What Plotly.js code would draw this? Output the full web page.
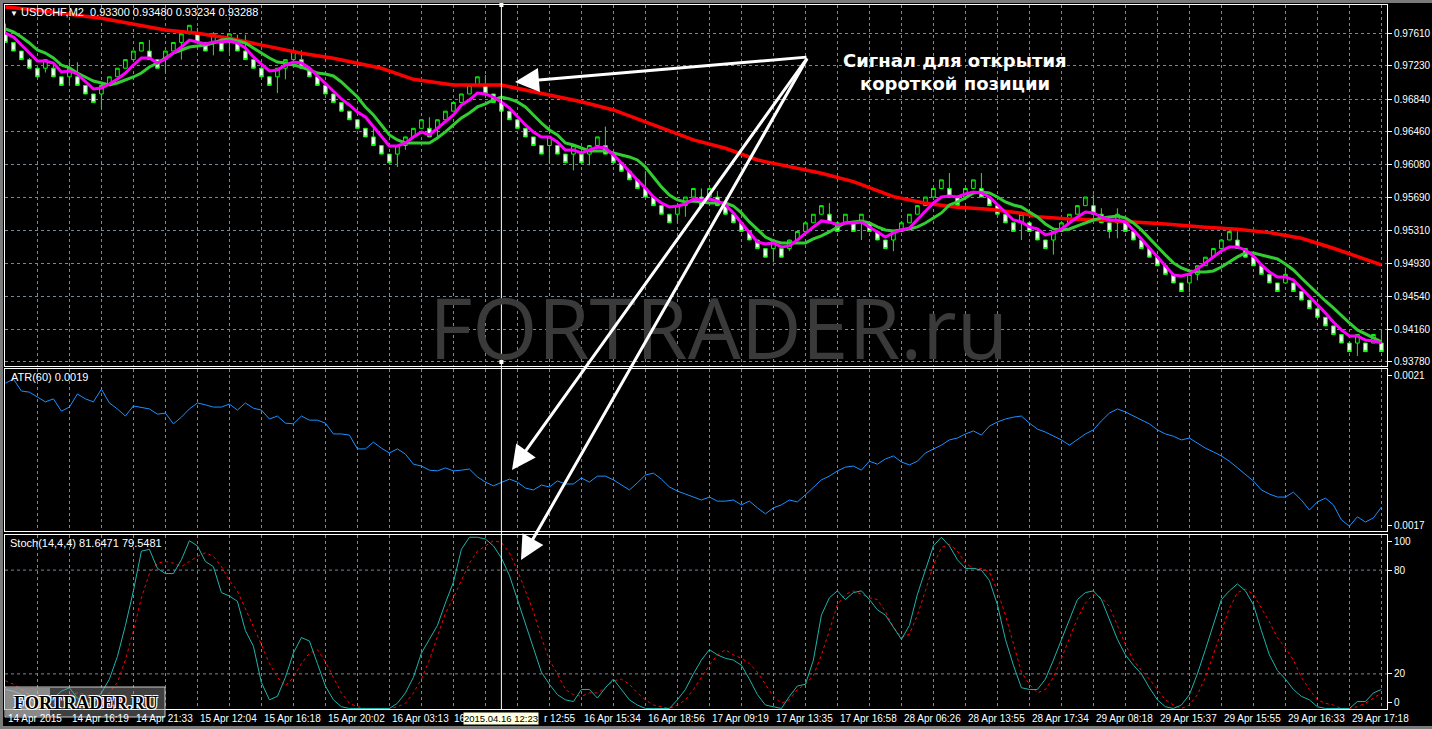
<!DOCTYPE html>
<html><head><meta charset="utf-8">
<script src="https://cdn.plot.ly/plotly-3.0.1.min.js"></script>
<style>html,body{margin:0;padding:0;background:#000;overflow:hidden}#chart{width:1432px;height:729px}</style>
</head><body><div id="chart"></div>
<script>
// ---- price candles (pips, 4 digits) ----
const openP = [9760,9750,9740,9730,9720,9720,9720,9710,9710,9710,
9700,9690,9690,9700,9710,9720,9730,9740,9740,9730,
9730,9740,9750,9760,9760,9750,9750,9750,9750,9750,
9740,9730,9720,9710,9710,9720,9730,9730,9720,9710,
9700,9690,9680,9670,9660,9650,9640,9630,9620,9620,
9630,9640,9650,9650,9650,9660,9670,9680,9690,9700,
9700,9690,9680,9670,9660,9650,9640,9630,9630,9630,
9620,9620,9620,9620,9630,9630,9620,9610,9600,9590,
9580,9570,9560,9550,9550,9560,9570,9570,9570,9570,
9560,9550,9540,9530,9520,9510,9510,9510,9510,9520,
9530,9540,9550,9550,9540,9540,9540,9540,9540,9530,
9520,9520,9530,9540,9550,9560,9570,9580,9580,9570,
9570,9580,9580,9570,9560,9550,9540,9540,9540,9530,
9520,9520,9530,9540,9550,9560,9560,9550,9540,9540,
9540,9530,9520,9510,9500,9490,9480,9470,9470,9480,
9490,9500,9510,9520,9520,9510,9500,9490,9480,9470,
9470,9470,9460,9450,9440,9430,9420,9410,9400,9400,
9400,9400,9400];
const closeP = [9750,9740,9730,9720,9710,9730,9710,9700,9720,9700,
9690,9680,9700,9710,9720,9730,9740,9750,9730,9720,
9740,9750,9760,9770,9750,9740,9760,9740,9760,9740,
9730,9720,9710,9700,9720,9730,9740,9720,9710,9700,
9690,9680,9670,9660,9650,9640,9630,9620,9610,9630,
9640,9650,9660,9640,9660,9670,9680,9690,9700,9710,
9690,9680,9670,9660,9650,9640,9630,9620,9640,9620,
9610,9630,9610,9630,9640,9620,9610,9600,9590,9580,
9570,9560,9550,9540,9560,9570,9580,9560,9580,9560,
9550,9540,9530,9520,9510,9500,9520,9500,9520,9530,
9540,9550,9560,9540,9530,9550,9530,9550,9530,9520,
9510,9530,9540,9550,9560,9570,9580,9590,9570,9560,
9580,9590,9570,9560,9550,9540,9530,9550,9530,9520,
9510,9530,9540,9550,9560,9570,9550,9540,9530,9550,
9530,9520,9510,9500,9490,9480,9470,9460,9480,9490,
9500,9510,9520,9530,9510,9500,9490,9480,9470,9460,
9480,9460,9450,9440,9430,9420,9410,9400,9390,9410,
9390,9410,9390];
const highP = [9772,9750,9740,9732,9720,9730,9727,9710,9727,9727,
9700,9690,9700,9710,9720,9730,9740,9750,9753,9730,
9740,9750,9760,9770,9767,9750,9762,9750,9760,9759,
9759,9730,9720,9710,9720,9730,9740,9741,9720,9710,
9700,9690,9680,9670,9660,9650,9650,9630,9620,9630,
9640,9650,9660,9663,9660,9670,9680,9690,9700,9710,
9712,9690,9680,9670,9660,9650,9640,9630,9640,9630,
9620,9630,9620,9630,9640,9652,9620,9610,9600,9590,
9600,9570,9560,9550,9560,9570,9580,9580,9580,9577,
9560,9550,9540,9530,9520,9510,9520,9510,9520,9530,
9540,9550,9560,9563,9540,9550,9540,9550,9540,9530,
9520,9530,9540,9550,9560,9570,9580,9590,9598,9570,
9580,9590,9598,9570,9560,9550,9540,9550,9540,9530,
9520,9530,9540,9550,9560,9570,9573,9557,9540,9557,
9540,9530,9520,9510,9500,9490,9480,9470,9480,9490,
9500,9510,9520,9530,9530,9510,9500,9490,9480,9470,
9488,9470,9460,9450,9440,9430,9420,9410,9400,9410,
9400,9410,9416];
const lowP = [9750,9740,9730,9720,9710,9715,9710,9700,9700,9700,
9690,9680,9673,9700,9710,9720,9730,9740,9730,9720,
9716,9740,9730,9760,9750,9740,9735,9740,9738,9740,
9730,9720,9710,9700,9691,9707,9730,9720,9710,9700,
9690,9680,9670,9660,9650,9640,9630,9620,9610,9605,
9625,9640,9650,9640,9640,9660,9670,9680,9690,9700,
9690,9680,9670,9660,9650,9640,9630,9620,9610,9620,
9610,9601,9610,9607,9630,9620,9610,9600,9590,9580,
9570,9560,9550,9540,9540,9547,9570,9560,9570,9560,
9550,9540,9530,9520,9510,9500,9494,9500,9507,9520,
9530,9540,9550,9540,9530,9540,9530,9520,9530,9520,
9510,9507,9530,9540,9550,9560,9570,9580,9570,9560,
9570,9580,9570,9560,9550,9540,9530,9520,9530,9520,
9510,9503,9530,9540,9550,9560,9550,9540,9522,9522,
9530,9520,9510,9500,9490,9480,9470,9460,9459,9473,
9490,9500,9510,9520,9510,9500,9490,9480,9470,9460,
9470,9460,9450,9440,9430,9420,9410,9400,9390,9385,
9390,9400,9390];

// ---- moving averages (5 digits) ----
const fastMA = [97610,97563,97470,97377,97284,97284,97261,97156,97168,97133,
97040,96958,96970,97016,97075,97144,97237,97319,97319,97261,
97307,97377,97447,97528,97505,97482,97505,97505,97517,97494,
97435,97331,97249,97168,97179,97237,97272,97261,97203,97110,
97016,96923,96842,96772,96690,96632,96516,96411,96295,96295,
96330,96399,96458,96423,96504,96574,96656,96772,96830,96912,
96900,96865,96807,96737,96632,96539,96458,96399,96399,96341,
96248,96248,96213,96248,96283,96271,96190,96097,95992,95899,
95806,95701,95631,95585,95596,95619,95678,95666,95678,95654,
95608,95515,95398,95282,95177,95154,95166,95119,95131,95201,
95282,95352,95422,95410,95375,95398,95398,95410,95352,95294,
95235,95282,95317,95340,95433,95526,95631,95701,95713,95701,
95736,95760,95748,95701,95608,95515,95433,95410,95352,95329,
95259,95282,95329,95398,95468,95526,95515,95468,95433,95433,
95410,95317,95212,95107,95003,94886,94793,94781,94805,94863,
94933,95003,95073,95119,95119,95084,95014,94909,94828,94770,
94770,94735,94642,94537,94444,94351,94246,94153,94083,94083,
94036,94025,94002];
const slowMA = [97657,97622,97563,97494,97412,97377,97319,97237,97203,97144,
97098,97051,97028,97005,97028,97063,97098,97144,97214,97261,
97319,97377,97412,97447,97459,97470,97494,97528,97540,97517,
97494,97435,97377,97319,97272,97261,97237,97214,97179,97144,
97133,97110,97040,96947,96865,96749,96656,96539,96423,96365,
96330,96330,96330,96330,96388,96458,96539,96621,96679,96749,
96784,96830,96865,96842,96807,96749,96656,96562,96481,96423,
96330,96306,96271,96236,96236,96236,96213,96190,96167,96132,
96050,95934,95818,95724,95666,95643,95654,95643,95631,95631,
95631,95596,95515,95410,95317,95235,95189,95166,95166,95166,
95166,95212,95247,95294,95352,95398,95410,95422,95398,95352,
95317,95305,95317,95329,95352,95398,95457,95515,95608,95643,
95689,95748,95760,95748,95701,95643,95608,95585,95526,95468,
95387,95329,95317,95329,95364,95398,95433,95457,95468,95480,
95457,95398,95317,95224,95119,95026,94933,94875,94840,94828,
94828,94840,94886,94944,95003,95049,95049,95026,95003,94979,
94921,94851,94758,94665,94584,94490,94409,94316,94234,94153,
94106,94060,94013];
const longMABar = [0,3,12,20,24,28,33,37,41,43,47,51,56,62,66,72,76,80,84,86,90,94,98,102,106,111,115,119,123,127,129,133,137,141,145,150,154,158,162,166,170,172];
const longMA = [97913,97886,97781,97645,97606,97548,97451,97374,97316,97276,97199,97071,97005,97005,96927,96810,96714,96578,96442,96365,96268,96132,96054,95977,95879,95705,95628,95581,95558,95511,95472,95445,95433,95414,95387,95348,95325,95286,95220,95104,94968,94910];

// ---- ATR(60) ----
const atr = [0.002080,0.002091,0.002059,0.002056,0.002043,0.002030,0.002038,0.002005,0.002016,0.002051,
0.002038,0.002030,0.002064,0.002027,0.002011,0.001992,0.002019,0.002016,0.002011,0.001997,
0.002000,0.001971,0.001989,0.002011,0.002027,0.002022,0.002016,0.002016,0.002024,0.002008,
0.002027,0.002013,0.002008,0.001984,0.001992,0.001973,0.001971,0.001992,0.001981,0.001981,
0.001973,0.001944,0.001944,0.001941,0.001904,0.001904,0.001922,0.001906,0.001893,0.001904,
0.001890,0.001863,0.001858,0.001847,0.001845,0.001853,0.001845,0.001847,0.001850,0.001829,
0.001815,0.001805,0.001813,0.001823,0.001815,0.001799,0.001794,0.001807,0.001802,0.001818,
0.001810,0.001810,0.001826,0.001815,0.001831,0.001831,0.001821,0.001807,0.001794,0.001813,
0.001834,0.001839,0.001823,0.001802,0.001791,0.001783,0.001775,0.001767,0.001775,0.001764,
0.001764,0.001767,0.001754,0.001764,0.001746,0.001730,0.001746,0.001754,0.001767,0.001762,
0.001781,0.001802,0.001821,0.001831,0.001845,0.001855,0.001858,0.001847,0.001871,0.001863,
0.001877,0.001885,0.001869,0.001861,0.001871,0.001893,0.001904,0.001914,0.001928,0.001933,
0.001944,0.001952,0.001941,0.001965,0.001976,0.001984,0.001989,0.001992,0.001973,0.001957,
0.001949,0.001938,0.001928,0.001914,0.001928,0.001944,0.001955,0.001979,0.002000,0.002011,
0.002003,0.001992,0.001981,0.001971,0.001955,0.001944,0.001938,0.001928,0.001933,0.001920,
0.001906,0.001896,0.001885,0.001871,0.001853,0.001837,0.001818,0.001794,0.001783,0.001775,
0.001775,0.001788,0.001767,0.001740,0.001762,0.001772,0.001754,0.001714,0.001697,0.001722,
0.001708,0.001719,0.001748];

// ---- Stochastic(14,4,4) ----
const stochMain = [11,10,8,5,2,3,6,10,12,6,3,3,9,17,30,48,68,91,92,81,
78,78,86,97,94,85,82,67,65,62,45,36,15,5,7,18,32,41,39,26,
13,5,1,0,0,0,0,0,0,3,9,18,32,40,48,61,73,92,99,99,
98,94,87,77,63,48,34,21,14,8,5,4,11,11,6,12,17,11,5,2,
0,0,0,0,5,11,20,28,34,31,29,28,25,17,8,2,1,0,7,13,
14,28,54,64,68,63,67,68,63,57,54,47,40,48,66,80,94,99,94,86,
81,81,80,74,60,40,25,12,11,11,17,28,40,52,63,67,68,63,52,40,
31,25,20,12,5,1,0,2,8,20,34,48,63,68,72,68,60,45,31,22,
17,11,7,5,1,0,0,0,0,4,4,9,11];
const stochSignal = [16,14,11,8,5,3,3,5,8,9,8,6,5,9,15,28,45,64,78,84,
85,84,82,85,88,90,88,82,74,68,58,47,37,26,18,13,18,26,32,34,
27,18,9,3,1,0,0,0,0,1,3,9,17,28,41,55,64,74,84,91,
94,97,96,90,80,68,56,41,28,20,11,8,7,9,9,12,16,17,14,9,
5,2,1,0,2,5,11,18,25,31,34,31,29,26,21,14,7,3,5,11,
14,19,31,45,60,66,68,66,64,63,56,47,41,43,54,68,83,93,95,91,
84,81,81,79,68,54,37,21,14,9,11,18,29,40,52,61,66,64,59,48,
37,28,22,17,11,5,2,0,2,8,18,31,45,58,67,69,66,58,50,41,
35,28,18,11,5,3,2,0,0,1,3,6,9];

// ---- axis labels ----
const priceTicks = [0.97610,0.97230,0.96840,0.96460,0.96080,0.95690,0.95310,0.94930,0.94540,0.94160,0.93780];
const priceTickText = ['0.97610','0.97230','0.96840','0.96460','0.96080','0.95690','0.95310','0.94930','0.94540','0.94160','0.93780'];
const atrTicks = [0.0021,0.0017];
const atrTickText = ['0.0021','0.0017'];
const stochTicks = [3.5,20,80,96.5];
const stochTickText = ['0','20','80','100'];
const stochLevels = [20,80];
const timeBars = [0,8,16,24,32,40,48,56,64,72,80,88,96,104,112,120,128,136,144,152,160,168];
const timeLabels = ['14 Apr 2015','14 Apr 16:19','14 Apr 21:33','15 Apr 12:04','15 Apr 16:18','15 Apr 20:02','16 Apr 03:13','16','r 12:55','16 Apr 15:34','16 Apr 18:56','17 Apr 09:19','17 Apr 13:35','17 Apr 16:58','28 Apr 06:26','28 Apr 13:55','28 Apr 17:34','29 Apr 08:18','29 Apr 15:37','29 Apr 15:55','29 Apr 16:33','29 Apr 17:18'];
const crossBar = 62;
const crossLabel = '2015.04.16 12:23';

const barIndex = openP.map((_, i) => i);
const FN = 'Liberation Sans, Arial, sans-serif';
const GRID = '#778899';
const xr = [-0.05, 172.7];

const traces = [
  {type:'candlestick', x:barIndex, open:openP.map(v=>v/10000), high:highP.map(v=>v/10000),
   low:lowP.map(v=>v/10000), close:closeP.map(v=>v/10000), xaxis:'x', yaxis:'y',
   increasing:{line:{color:'#00ff00',width:1}, fillcolor:'#000000'},
   decreasing:{line:{color:'#00ff00',width:1}, fillcolor:'#ffffff'},
   whiskerwidth:0, hoverinfo:'skip'},
  {type:'scatter', mode:'lines', x:longMABar, y:longMA.map(v=>v/100000), xaxis:'x', yaxis:'y',
   line:{color:'#ff0000', width:3.5}, hoverinfo:'skip'},
  {type:'scatter', mode:'lines', x:barIndex, y:slowMA.map(v=>v/100000), xaxis:'x', yaxis:'y',
   line:{color:'#32cd32', width:3}, hoverinfo:'skip'},
  {type:'scatter', mode:'lines', x:barIndex, y:fastMA.map(v=>v/100000), xaxis:'x', yaxis:'y',
   line:{color:'#ff00ff', width:3}, hoverinfo:'skip'},
  {type:'scatter', mode:'lines', x:barIndex, y:atr, xaxis:'x2', yaxis:'y2',
   line:{color:'#1e90ff', width:1}, hoverinfo:'skip'},
  {type:'scatter', mode:'lines', x:barIndex, y:stochSignal, xaxis:'x3', yaxis:'y3',
   line:{color:'#ff0000', width:1, dash:'dot'}, hoverinfo:'skip'},
  {type:'scatter', mode:'lines', x:barIndex, y:stochMain, xaxis:'x3', yaxis:'y3',
   line:{color:'#20b2aa', width:1}, hoverinfo:'skip'}
];

function xAxis(anchor, extra){
  return Object.assign({domain:[0,1], anchor:anchor, range:xr, showticklabels:false,
    tick0:0, dtick:4, ticks:'', showgrid:true, gridcolor:GRID, griddash:'3px,3px', gridwidth:1,
    zeroline:false, showline:true, mirror:true, linecolor:'#ffffff', linewidth:1,
    rangeslider:{visible:false}, fixedrange:true}, extra||{});
}
function yAxis(anchor, dom, extra){
  return Object.assign({domain:dom, anchor:anchor, side:'right', zeroline:false,
    showline:true, mirror:true, linecolor:'#ffffff', linewidth:1,
    ticks:'outside', ticklen:4, tickcolor:'#ffffff', tickwidth:1,
    tickfont:{family:FN, size:10, color:'#ffffff'}, fixedrange:true}, extra||{});
}

const ann = [];
const W = 1382, H = 704;
function px(x){ return (x-5)/W; }
function py(y){ return 1-(y-5)/H; }

ann.push({xref:'paper', yref:'paper', x:px(8), y:py(12), xanchor:'left', yanchor:'middle', showarrow:false,
  text:'<span style="font-size:8px">▼</span> USDCHF,M2  0.93300 0.93480 0.93234 0.93288',
  font:{family:FN, size:11, color:'#ffffff'}});
ann.push({xref:'paper', yref:'paper', x:px(9), y:py(377), xanchor:'left', yanchor:'middle', showarrow:false,
  text:'ATR(60) 0.0019', font:{family:FN, size:11, color:'#ffffff'}});
ann.push({xref:'paper', yref:'paper', x:px(8), y:py(543), xanchor:'left', yanchor:'middle', showarrow:false,
  text:'Stoch(14,4,4) 81.6471 79.5481', font:{family:FN, size:11, color:'#ffffff'}});

// watermark
ann.push({xref:'paper', yref:'paper', x:px(718), y:py(326), xanchor:'center', yanchor:'middle', showarrow:false,
  text:'FORTRADER.ru', font:{family:'Open Sans, Lato, sans-serif', size:84, color:'#3a3a3a'}});

// arrows
const tail = [808, 57];
[[515,82],[512,470],[521,560]].forEach(h => {
  ann.push({xref:'paper', yref:'paper', x:px(h[0]), y:py(h[1]), ax:tail[0]-h[0], ay:tail[1]-h[1],
    text:'', showarrow:true, arrowhead:2, arrowsize:1.6, arrowwidth:3, arrowcolor:'#ffffff', standoff:0, startstandoff:0});
});
ann.push({xref:'paper', yref:'paper', x:px(955), y:py(60), xanchor:'center', yanchor:'middle', showarrow:false,
  text:'<b>Сигнал для открытия</b>', font:{family:'DejaVu Sans, sans-serif', size:18, color:'#ffffff'}});
ann.push({xref:'paper', yref:'paper', x:px(955), y:py(83), xanchor:'center', yanchor:'middle', showarrow:false,
  text:'<b>короткой позиции</b>', font:{family:'DejaVu Sans, sans-serif', size:18, color:'#ffffff'}});

// time labels (the two around the crosshair are partly covered by its date box in the source)
timeBars.forEach((b, i) => {
  const shift = (i === 8) ? 25 : (i === 7 ? -1 : 1);
  ann.push({xref:'x3', yref:'paper', x:b, y:py(718), xanchor:'left', yanchor:'middle', xshift:shift, showarrow:false,
    text:timeLabels[i], font:{family:FN, size:10, color:'#ffffff'}});
});
// logo text
ann.push({xref:'paper', yref:'paper', x:px(86), y:py(703), xanchor:'center', yanchor:'middle', showarrow:false,
  text:'<b>FORTRADER.RU</b>', font:{family:'Liberation Serif, DejaVu Serif, serif', size:18, color:'#000000',
  shadow:'1px 1px 0 #fff, -1px -1px 0 #fff, 1px -1px 0 #fff, -1px 1px 0 #fff'}});
// crosshair date label
ann.push({xref:'x3', yref:'paper', x:crossBar, y:py(718), xanchor:'center', yanchor:'middle', showarrow:false,
  text:crossLabel, bgcolor:'#ffffe1', borderpad:0, font:{family:FN, size:9.5, color:'#000000'}});

const shapes = [];
stochLevels.forEach(v => shapes.push({type:'line', xref:'paper', yref:'y3', x0:0, x1:1, y0:v, y1:v,
  line:{color:GRID, width:1, dash:'3px,3px'}, layer:'below'}));
shapes.push({type:'line', xref:'x', yref:'paper', x0:crossBar, x1:crossBar, y0:0, y1:1,
  line:{color:'#fffff0', width:1}, layer:'above'});
[py(5), py(362)].forEach(yy => shapes.push({type:'rect', xref:'x', yref:'paper', xsizemode:'pixel', ysizemode:'pixel',
  xanchor:crossBar, yanchor:yy, x0:-2, x1:2, y0:-2, y1:2, fillcolor:'#fffff0', line:{width:0}}));
// logo box
shapes.push({type:'rect', xref:'paper', yref:'paper', x0:px(5), x1:px(165), y0:py(717), y1:py(687),
  fillcolor:'rgba(140,140,140,0.45)', line:{color:'#c8c8c8', width:1}, layer:'above'});
shapes.push({type:'rect', xref:'paper', yref:'paper', x0:px(6), x1:px(50), y0:py(716), y1:py(688),
  fillcolor:'rgba(200,200,200,0.55)', line:{width:0}, layer:'above'});
// outer frame strips
shapes.push({type:'rect', xref:'paper', yref:'paper', x0:-0.01, x1:1.05, y0:py(3), y1:py(-5), fillcolor:'#7a7a7a', line:{width:0}});
shapes.push({type:'rect', xref:'paper', yref:'paper', x0:px(-5), x1:px(3), y0:py(735), y1:py(-5), fillcolor:'#7a7a7a', line:{width:0}});
shapes.push({type:'rect', xref:'paper', yref:'paper', x0:-0.01, x1:1.05, y0:py(735), y1:py(726), fillcolor:'#7a7a7a', line:{width:0}});

const layout = {
  width:1432, height:729, autosize:false,
  margin:{l:5, r:45, t:5, b:20, pad:0},
  paper_bgcolor:'#000000', plot_bgcolor:'#000000',
  showlegend:false, hovermode:false, dragmode:false, boxgap:0.35,
  xaxis: xAxis('y'),
  xaxis2: xAxis('y2', {matches:'x'}),
  xaxis3: xAxis('y3', {matches:'x'}),
  yaxis: yAxis('x', [0.48722,1], {range:[0.93733,0.97936], tickvals:priceTicks, ticktext:priceTickText,
    showgrid:true, gridcolor:GRID, griddash:'3px,3px', gridwidth:1}),
  yaxis2: yAxis('x2', [0.25284,0.48295], {range:[0.001684,0.002118], tickvals:atrTicks, ticktext:atrTickText, showgrid:false}),
  yaxis3: yAxis('x3', [0,0.24716], {range:[-0.3,100.3], tickvals:stochTicks, ticktext:stochTickText, showgrid:false}),
  annotations: ann,
  shapes: shapes
};

Plotly.newPlot('chart', traces, layout, {staticPlot:true, displayModeBar:false});
</script></body></html>
